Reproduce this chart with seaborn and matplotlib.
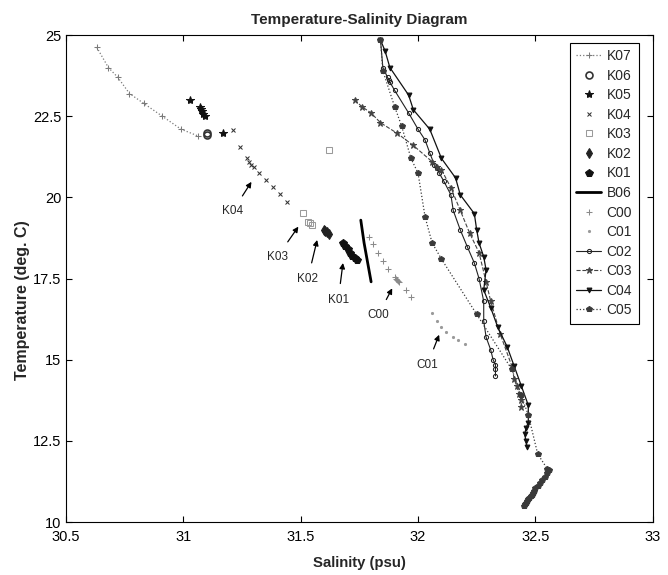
"""
Temperature-Salinity diagram, K / B / C stations
"""
import matplotlib
matplotlib.use('Agg')
import matplotlib.pyplot as plt
import seaborn as sns
from matplotlib.ticker import FuncFormatter

# ---- station profiles (salinity psu, temperature deg C) ----
K07_sal = [30.63, 30.68, 30.72, 30.77, 30.83, 30.91, 30.99, 31.06]
K07_temp = [24.63, 24.0, 23.7, 23.2, 22.9, 22.5, 22.1, 21.9]

K06_sal = [31.10, 31.10]
K06_temp = [21.92, 21.97]

K05_sal = [31.03, 31.07, 31.075, 31.08, 31.085, 31.09, 31.17]
K05_temp = [23.0, 22.8, 22.72, 22.65, 22.58, 22.5, 21.98]

K04_sal = [31.21, 31.24, 31.27, 31.28, 31.29, 31.30, 31.32, 31.35, 31.38, 31.41, 31.44]
K04_temp = [22.07, 21.55, 21.2, 21.1, 21.0, 20.95, 20.75, 20.55, 20.32, 20.1, 19.86]

K03_sal = [31.62, 31.51, 31.53, 31.54, 31.55]
K03_temp = [21.46, 19.52, 19.25, 19.2, 19.15]

K02_sal = [31.60, 31.605, 31.61, 31.62]
K02_temp = [19.0, 18.97, 18.94, 18.88]

K01_sal = [31.68, 31.69, 31.70, 31.71, 31.72, 31.73, 31.74]
K01_temp = [18.6, 18.5, 18.4, 18.3, 18.2, 18.12, 18.08]

B06_sal = [31.756, 31.762, 31.77, 31.78, 31.79, 31.80]
B06_temp = [19.3, 19.0, 18.6, 18.2, 17.8, 17.4]

C00_sal = [31.79, 31.81, 31.83, 31.85, 31.87, 31.90, 31.905, 31.91, 31.915, 31.92, 31.95, 31.97]
C00_temp = [18.78, 18.55, 18.3, 18.05, 17.8, 17.55, 17.5, 17.45, 17.42, 17.38, 17.15, 16.94]

C01_sal = [32.06, 32.08, 32.10, 32.12, 32.15, 32.17, 32.20]
C01_temp = [16.45, 16.2, 16.0, 15.85, 15.7, 15.6, 15.5]

C02_sal = [31.84, 31.85, 31.87, 31.875, 31.88, 31.90, 31.96, 32.00, 32.03, 32.05, 32.07,
           32.08, 32.09, 32.11, 32.14, 32.15, 32.18, 32.21, 32.24, 32.26, 32.28, 32.28,
           32.29, 32.31, 32.32, 32.33, 32.33, 32.33]
C02_temp = [24.85, 24.0, 23.7, 23.62, 23.55, 23.3, 22.6, 22.1, 21.77, 21.37, 21.0,
            20.9, 20.75, 20.5, 20.08, 19.6, 19.0, 18.48, 17.98, 17.5, 16.8, 16.2,
            15.7, 15.3, 15.0, 14.85, 14.7, 14.5]

C03_sal = [31.73, 31.76, 31.80, 31.84, 31.91, 31.98, 32.06, 32.08, 32.10, 32.14, 32.18,
           32.22, 32.26, 32.29, 32.31, 32.35, 32.40, 32.41, 32.42, 32.43, 32.44, 32.44]
C03_temp = [23.0, 22.8, 22.6, 22.3, 21.98, 21.6, 21.1, 20.95, 20.85, 20.3, 19.6,
            18.9, 18.3, 17.4, 16.8, 15.8, 14.8, 14.4, 14.2, 13.95, 13.75, 13.55]

C04_sal = [31.84, 31.86, 31.88, 31.96, 31.98, 32.05, 32.10, 32.16, 32.18, 32.24, 32.25,
           32.26, 32.28, 32.29, 32.28, 32.31, 32.34, 32.38, 32.41, 32.44, 32.47, 32.47,
           32.46, 32.455, 32.46, 32.465]
C04_temp = [24.85, 24.5, 24.0, 23.15, 22.7, 22.1, 21.2, 20.6, 20.08, 19.5, 19.0,
            18.6, 18.17, 17.77, 17.15, 16.6, 16.0, 15.4, 14.8, 14.2, 13.6, 13.06,
            12.9, 12.7, 12.5, 12.3]

C05_sal = [31.84, 31.85, 31.90, 31.93, 31.97, 32.00, 32.03, 32.06, 32.10, 32.25, 32.40,
           32.44, 32.47, 32.51, 32.55, 32.56, 32.55, 32.54, 32.53, 32.52, 32.51, 32.50,
           32.495, 32.49, 32.485, 32.48, 32.475, 32.47, 32.465, 32.46, 32.455, 32.45]
C05_temp = [24.85, 23.9, 22.8, 22.2, 21.2, 20.75, 19.4, 18.6, 18.1, 16.4, 14.7,
            13.9, 13.3, 12.1, 11.65, 11.6, 11.5, 11.4, 11.3, 11.2, 11.12, 11.05,
            10.97, 10.9, 10.85, 10.8, 10.75, 10.7, 10.65, 10.6, 10.55, 10.5]

# annotation text positions and arrow tips
label_names = ['K04', 'K03', 'K02', 'K01', 'C00', 'C01']
label_text_xy = [(31.21, 19.58), (31.40, 18.17), (31.53, 17.49), (31.66, 16.85),
                 (31.83, 16.38), (32.04, 14.85)]
label_tip_xy = [(31.29, 20.48), (31.49, 19.10), (31.57, 18.69), (31.68, 17.98),
                (31.89, 17.20), (32.09, 15.77)]

x_ticks = [30.5, 31, 31.5, 32, 32.5, 33]
y_ticks = [10, 12.5, 15, 17.5, 20, 22.5, 25]

sns.set_style('ticks')
plt.rcParams['font.family'] = ['Liberation Sans', 'DejaVu Sans']

fig, ax = plt.subplots(figsize=(6.68, 5.75), dpi=100)
fig.subplots_adjust(left=0.099, right=0.977, bottom=0.092, top=0.939)

series = [
    ('K07', K07_sal, K07_temp, dict(color='#7a7a7a', ls=':', lw=0.9, marker='+', ms=4)),
    ('K06', K06_sal, K06_temp, dict(color='#333333', ls='', marker='o', ms=5, mfc='none', mew=1.2)),
    ('K05', K05_sal, K05_temp, dict(color='#111111', ls='', marker='*', ms=6)),
    ('K04', K04_sal, K04_temp, dict(color='#333333', ls='', marker='x', ms=3.5)),
    ('K03', K03_sal, K03_temp, dict(color='#9a9a9a', ls='', marker='s', ms=4.5, mfc='none')),
    ('K02', K02_sal, K02_temp, dict(color='#222222', ls='', marker='d', ms=5)),
    ('K01', K01_sal, K01_temp, dict(color='#111111', ls='', marker='p', ms=6)),
    ('B06', B06_sal, B06_temp, dict(color='black', ls='-', lw=2.0)),
    ('C00', C00_sal, C00_temp, dict(color='#8a8a8a', ls='', marker='+', ms=4.5)),
    ('C01', C01_sal, C01_temp, dict(color='#9a9a9a', ls='', marker='.', ms=3)),
    ('C02', C02_sal, C02_temp, dict(color='#222222', ls='-', lw=0.8, marker='o', ms=3, mfc='none')),
    ('C03', C03_sal, C03_temp, dict(color='#444444', ls='--', lw=0.8, marker='*', ms=4.5)),
    ('C04', C04_sal, C04_temp, dict(color='#111111', ls='-', lw=0.9, marker='v', ms=3.5)),
    ('C05', C05_sal, C05_temp, dict(color='#3a3a3a', ls=':', lw=0.9, marker='p', ms=4)),
]

for name, sal, temp, style in series:
    style = dict(style)
    style.setdefault('mec', style['color'])
    sns.lineplot(x=sal, y=temp, sort=False, estimator=None, errorbar=None,
                 ax=ax, label=name, **style)

for name, txt, tip in zip(label_names, label_text_xy, label_tip_xy):
    ax.annotate(name, xy=tip, xytext=txt, ha='center', va='center', fontsize=8.5,
                arrowprops=dict(arrowstyle='-|>', color='black', lw=0.9,
                                mutation_scale=8, shrinkA=5, shrinkB=0))

ax.set_xlim(30.5, 33)
ax.set_ylim(10, 25)
ax.set_xticks(x_ticks)
ax.set_yticks(y_ticks)
ax.xaxis.set_major_formatter(FuncFormatter(lambda v, p: f'{v:g}'))
ax.yaxis.set_major_formatter(FuncFormatter(lambda v, p: f'{v:g}'))
ax.tick_params(direction='in', top=True, right=True, length=4, width=0.8,
               labelsize=10.5, colors='black')
ax.tick_params(axis='x', pad=6)
for sp in ax.spines.values():
    sp.set_color('black')
    sp.set_linewidth(0.8)

ax.set_title('Temperature-Salinity Diagram', fontsize=11, fontweight='bold', pad=8)
ax.set_xlabel('Salinity (psu)', fontsize=10.7, fontweight='bold', labelpad=8)
ax.set_ylabel('Temperature (deg. C)', fontsize=11.5, fontweight='bold')
ax.yaxis.set_label_coords(-0.062, 0.456)

leg = ax.legend(loc='upper right', bbox_to_anchor=(0.976, 0.984), fontsize=10,
                frameon=True, fancybox=False, framealpha=1, edgecolor='black',
                labelspacing=0.4, handlelength=1.8, handletextpad=0.4,
                borderpad=0.45, borderaxespad=0)
leg.get_frame().set_linewidth(0.8)

plt.savefig('out.png', dpi=100)
